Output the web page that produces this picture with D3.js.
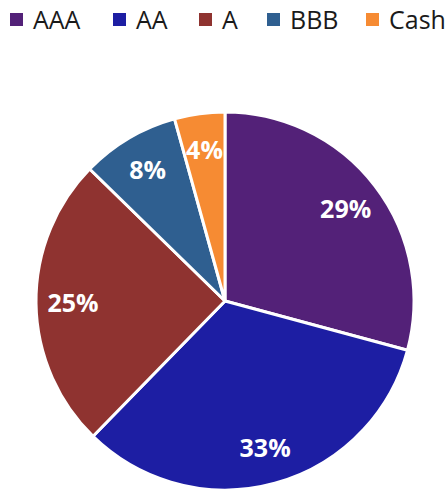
<!DOCTYPE html>
<html lang="en">
<head>
<script src="https://d3js.org/d3.v7.min.js"></script>
<style>
  body { margin: 0; background: #fff; }
</style>
</head>
<body>
<script>
  // ratings and their share of the portfolio
  const ratings = ["AAA", "AA", "A", "BBB", "Cash"];
  const shares = [29.2, 33.1, 25.0, 8.4, 4.3];
  const colours = ["#532178", "#1d1ea3", "#8f3330", "#2f5f90", "#f68b33"];

  const width = 448, height = 491;
  const cx = 225, cy = 301, radius = 189;

  const svg = d3.select("body").append("svg")
    .attr("width", width)
    .attr("height", height);

  const colour = d3.scaleOrdinal().domain(ratings).range(colours);

  const data = ratings.map((r, i) => ({ rating: r, value: shares[i] }));

  const pie = d3.pie().value(d => d.value).sort(null);
  const arc = d3.arc().innerRadius(0).outerRadius(radius);
  const labelArc = d3.arc().innerRadius(152).outerRadius(152);

  const g = svg.append("g").attr("transform", `translate(${cx},${cy})`);

  const slices = g.selectAll("g.slice").data(pie(data)).join("g").attr("class", "slice");

  slices.append("path")
    .attr("d", arc)
    .attr("fill", d => colour(d.data.rating))
    .attr("stroke", "#fff")
    .attr("stroke-width", 3)
    .attr("stroke-linejoin", "round");

  slices.append("text")
    .attr("transform", d => `translate(${labelArc.centroid(d)})`)
    .attr("text-anchor", "middle")
    .attr("dy", "0.36em")
    .attr("fill", "#fff")
    .style("font-family", "'Open Sans', sans-serif")
    .style("font-weight", "bold")
    .style("font-size", "25px")
    .text(d => Math.round(d.data.value) + "%");

  // legend across the top
  const legendX = [10, 113, 199, 267, 366];
  const legend = svg.append("g").selectAll("g").data(ratings).join("g")
    .attr("transform", (d, i) => `translate(${legendX[i]},0)`);

  legend.append("rect")
    .attr("x", 0).attr("y", 13)
    .attr("width", 13).attr("height", 13)
    .attr("fill", d => colour(d));

  legend.append("text")
    .attr("x", 23).attr("y", 29)
    .attr("fill", "#1a1a1a")
    .style("font-family", "'Open Sans', sans-serif")
    .style("font-size", "25px")
    .text(d => d);
</script>
</body>
</html>
